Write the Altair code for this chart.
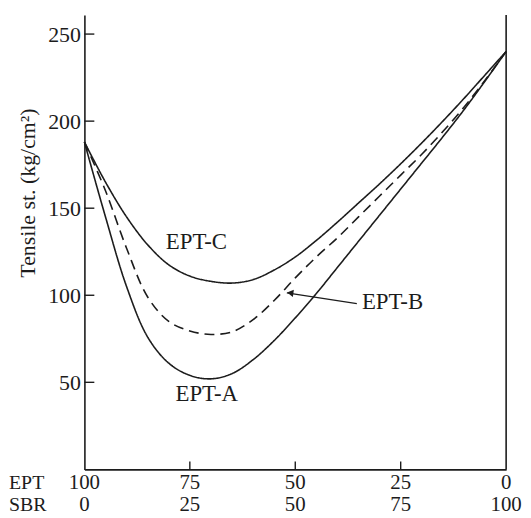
import altair as alt
import pandas as pd

# SBR content (%) — EPT content is 100 - SBR
sbr = [0, 5, 10, 15, 20, 25, 30, 35, 40, 45, 50, 55, 60, 65, 70, 75, 80, 85, 90, 95, 100]
ept_a = [188, 145, 105, 76, 61, 54, 52, 55, 63, 74, 87, 101, 116, 131, 146, 161, 176, 191, 206.5, 223, 240]
ept_b = [188, 160, 127, 99, 85, 79.5, 77.5, 79, 86, 97, 110, 122, 133, 145, 157, 169, 181, 194, 208, 223.5, 240]
ept_c = [188, 165, 145, 129, 117.5, 111, 108, 107, 109, 114.5, 122, 131.5, 142, 153, 164, 175.5, 187.5, 200, 213, 226.5, 240]

series_names = ["EPT-A", "EPT-B", "EPT-C"]

y_ticks = [50, 100, 150, 200, 250]
x_inner_ticks = [25, 50, 75]
tick_sbr = [0, 25, 50, 75, 100]
tick_ept = [100, 75, 50, 25, 0]

label_text = ["EPT-A", "EPT-B", "EPT-C"]
label_sbr = [21.6, 65.8, 19.3]
label_val = [43.5, 96.3, 130.5]

arrow_sbr = [64.6, 48.0]
arrow_val = [95.2, 101.4]

W, H = 425, 458
FONT = "Liberation Serif"
INK = "#1c1c1c"

rows = []
for name, vals in zip(series_names, [ept_a, ept_b, ept_c]):
    for s, v in zip(sbr, vals):
        rows.append({"sbr": s, "val": v, "series": name})
df = pd.DataFrame(rows)

xs = alt.Scale(domain=[0, 100], nice=False, zero=False)
ys = alt.Scale(domain=[0, 261], nice=False)

lines = alt.Chart(df).mark_line(interpolate="catmull-rom", strokeWidth=1.6, color=INK).encode(
    x=alt.X("sbr:Q", scale=xs,
            axis=alt.Axis(labels=False, ticks=False, title=None, grid=False, domain=True,
                          domainColor=INK, domainWidth=1.6)),
    y=alt.Y("val:Q", scale=ys,
            axis=alt.Axis(values=y_ticks, ticks=False, grid=False, domain=True,
                          domainColor=INK, domainWidth=1.6, labelPadding=4,
                          labelFont=FONT, labelFontSize=22, labelColor=INK,
                          title="Tensile st. (kg/cm²)", titleFont=FONT, titleFontSize=22,
                          titleFontWeight="normal", titleColor=INK,
                          titleAnchor="middle", titleAlign="center",
                          titleX=-57, titleY=179, titleBaseline="middle")),
    strokeDash=alt.StrokeDash("series:N",
                              scale=alt.Scale(domain=series_names, range=[[1, 0], [10, 6], [1, 0]]),
                              legend=None),
    detail="series:N",
)

ytick_df = pd.DataFrame({"v": y_ticks})
yticks = alt.Chart(ytick_df).mark_rule(color=INK, strokeWidth=1.4).encode(
    y=alt.Y("v:Q", scale=ys), x=alt.value(0), x2=alt.value(10)
)

xtick_df = pd.DataFrame({"s": x_inner_ticks})
xticks = alt.Chart(xtick_df).mark_rule(color=INK, strokeWidth=1.4).encode(
    x=alt.X("s:Q", scale=xs), y=alt.value(H), y2=alt.value(H - 8)
)

right_df = pd.DataFrame({"s": [100]})
right_line = alt.Chart(right_df).mark_rule(color=INK, strokeWidth=1.6).encode(
    x=alt.X("s:Q", scale=xs), y=alt.value(0), y2=alt.value(H)
)

lab_df = pd.DataFrame({"t": label_text, "s": label_sbr, "v": label_val})
labels = alt.Chart(lab_df).mark_text(align="left", baseline="middle", font=FONT,
                                     fontSize=23, color=INK).encode(
    x=alt.X("s:Q", scale=xs), y=alt.Y("v:Q", scale=ys), text="t:N"
)

arr_df = pd.DataFrame({"s": arrow_sbr, "v": arrow_val, "o": [0, 1]})
arrow_line = alt.Chart(arr_df).mark_line(color=INK, strokeWidth=1.2).encode(
    x=alt.X("s:Q", scale=xs), y=alt.Y("v:Q", scale=ys), order="o:O"
)
head_df = pd.DataFrame({"s": [arrow_sbr[1] + 0.8], "v": [arrow_val[1] - 0.1]})
arrow_head = alt.Chart(head_df).mark_point(shape="triangle-left", filled=True, size=55,
                                           angle=8, color=INK, opacity=1).encode(
    x=alt.X("s:Q", scale=xs), y=alt.Y("v:Q", scale=ys)
)

bt_df = pd.DataFrame({"sbr": tick_sbr, "ept": tick_ept})
ept_row = alt.Chart(bt_df).mark_text(baseline="middle", font=FONT, fontSize=21, color=INK).encode(
    x=alt.X("sbr:Q", scale=xs), y=alt.value(H + 14), text="ept:Q"
)
sbr_row = alt.Chart(bt_df).mark_text(baseline="middle", font=FONT, fontSize=21, color=INK).encode(
    x=alt.X("sbr:Q", scale=xs), y=alt.value(H + 36), text="sbr:Q"
)
row_ept = alt.Chart(pd.DataFrame({"t": ["EPT"]})).mark_text(
    align="left", baseline="middle", font=FONT, fontSize=20, color=INK
).encode(x=alt.value(-76), y=alt.value(H + 14), text="t:N")
row_sbr = alt.Chart(pd.DataFrame({"t": ["SBR"]})).mark_text(
    align="left", baseline="middle", font=FONT, fontSize=20, color=INK
).encode(x=alt.value(-76), y=alt.value(H + 36), text="t:N")

chart = alt.layer(
    lines, yticks, xticks, right_line, labels, arrow_line, arrow_head,
    ept_row, sbr_row, row_ept, row_sbr
).properties(
    width=W, height=H,
    padding={"left": 77, "top": 5, "right": 17, "bottom": 45},
    autosize=alt.AutoSizeParams(type="none"),
    background="white",
).configure_view(stroke=None)

chart.save("out.html", embed_options={"renderer": "svg", "actions": False})
